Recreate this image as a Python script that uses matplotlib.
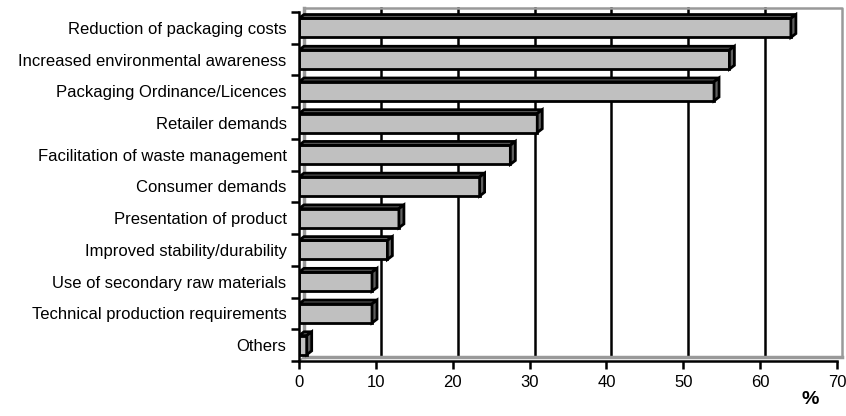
import matplotlib.pyplot as plt
from matplotlib.patches import Polygon, Rectangle
import numpy as np

plt.rcParams['font.family'] = ['Liberation Sans', 'DejaVu Sans']

# Reasons for packaging changes (share of respondents, %)
categories = [
    'Reduction of packaging costs',
    'Increased environmental awareness',
    'Packaging Ordinance/Licences',
    'Retailer demands',
    'Facilitation of waste management',
    'Consumer demands',
    'Presentation of product',
    'Improved stability/durability',
    'Use of secondary raw materials',
    'Technical production requirements',
    'Others',
]
values = [64, 56, 54, 31, 27.5, 23.5, 13, 11.5, 9.5, 9.5, 1]
x_ticks = [0, 10, 20, 30, 40, 50, 60, 70]

n = len(categories)
pos = np.arange(n)[::-1]  # top category at the top

fig = plt.figure(figsize=(8.46, 4.16), dpi=100)
ax = fig.add_axes([299 / 846, 55 / 416, 538 / 846, 349 / 416])
ax.set_xlim(0, 70)
ax.set_ylim(-0.5, n - 0.5)

# 3D depth offsets (data units)
dx = 0.65
dy = 0.12
h = 0.6
wall = '#999999'

# back wall: grid lines and frame
for t in x_ticks[1:-1]:
    ax.plot([t + dx, t + dx], [-0.5 + dy, n - 0.5 + dy], color='black', lw=1.8,
            zorder=1, clip_on=False)
ax.plot([dx, 70 + dx, 70 + dx], [n - 0.5 + dy, n - 0.5 + dy, -0.5 + dy],
        color=wall, lw=1.8, zorder=1, clip_on=False)
ax.plot([dx, 70 + dx], [-0.5 + dy, -0.5 + dy], color=wall, lw=2.5, zorder=1, clip_on=False)
ax.plot([dx, dx], [-0.5 + dy, n - 0.5 + dy], color=wall, lw=2.5, zorder=1, clip_on=False)
ax.plot([0, dx], [-0.5, -0.5 + dy], color=wall, lw=1.2, zorder=1, clip_on=False)

# bars with 3D faces
for y, v in zip(pos, values):
    y0, y1 = y - h / 2, y + h / 2
    ax.add_patch(Rectangle((0, y0), v, h, facecolor='#c0c0c0', edgecolor='black',
                           lw=2, zorder=3))
    ax.add_patch(Polygon([(0, y1), (v, y1), (v + dx, y1 + dy), (dx, y1 + dy)],
                         closed=True, facecolor='#606060', edgecolor='black',
                         lw=2, zorder=3, joinstyle='miter'))
    ax.add_patch(Polygon([(v, y0), (v + dx, y0 + dy), (v + dx, y1 + dy), (v, y1)],
                         closed=True, facecolor='#606060', edgecolor='black',
                         lw=2, zorder=3, joinstyle='miter'))

# axes and ticks
for s in ['top', 'right']:
    ax.spines[s].set_visible(False)
for s in ['left', 'bottom']:
    ax.spines[s].set_linewidth(1.8)
    ax.spines[s].set_zorder(4)

ax.set_xticks(x_ticks)
ax.set_xticklabels([str(t) for t in x_ticks], fontsize=12)
ax.tick_params(axis='x', direction='out', length=6, width=1.8, pad=4)

ax.set_yticks(np.arange(-0.5, n, 1.0))
ax.set_yticklabels([])
ax.tick_params(axis='y', which='major', direction='out', length=6, width=1.8)
ax.set_yticks(pos, minor=True)
ax.set_yticklabels(categories, minor=True, fontsize=12)
ax.tick_params(axis='y', which='minor', length=0, pad=9)

fig.text(810 / 846, 1 - 400 / 416, '%', fontsize=14, fontweight='bold',
         ha='center', va='center')

fig.savefig('out.png', dpi=100)
